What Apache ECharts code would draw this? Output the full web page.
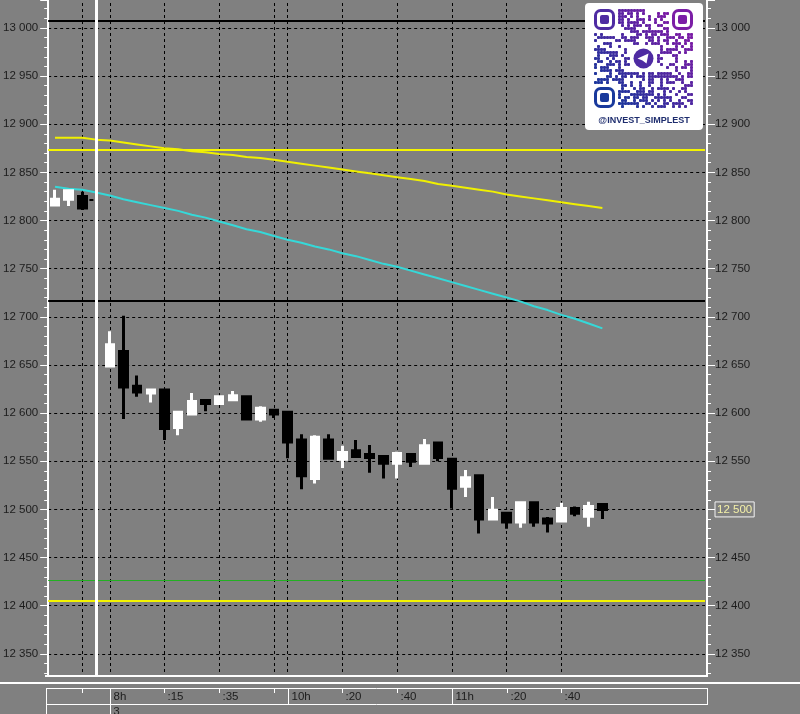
<!DOCTYPE html>
<html><head><meta charset="utf-8">
<script src="https://cdn.jsdelivr.net/npm/echarts@6/dist/echarts.min.js"></script>
<style>html,body{margin:0;padding:0;background:#808080}#c{width:800px;height:714px}</style>
</head><body><div id="c"></div>
<script>
// ---- DATA ----
const slots = ['0','1','2','3','4','5','6','7','8','9','10','11','12','13','14','15','16','17','18','19','20','21','22','23','24','25','26','27','28','29','30','31','32','33','34','35','36','37','38','39','40','41','42','43','44','45','46','47'];
const opens  = [12816,12822,12825,null,12649,12664,12628,12621,12624,12585,12599,12613,12610,12614,12617,12594,12603,12601,12572,12532,12572,12552,12561,12557,12555,12548,12557,12548,12569,12552,12524,12535,12490,12496,12487,12507,12490,12488,12501,12493,12505];
const closes = [12822,12831,12813,null,12671,12627,12622,12624,12584,12601,12612,12610,12617,12618,12594,12605,12599,12570,12535,12575,12553,12559,12555,12554,12548,12558,12550,12566,12554,12522,12533,12490,12499,12487,12507,12487,12486,12501,12496,12503,12500];
const lows   = [12816,12815,12811,null,12649,12594,12617,12611,12572,12577,12599,12602,12610,12614,12594,12591,12595,12553,12521,12527,12553,12543,12555,12538,12532,12532,12544,12548,12550,12501,12513,12475,12490,12480,12481,12482,12476,12488,12493,12482,12490];
const highs  = [12832,12831,12830,null,12685,12701,12639,12625,12625,12601,12621,12613,12617,12623,12617,12607,12603,12601,12578,12577,12578,12566,12572,12567,12555,12560,12557,12573,12569,12552,12541,12535,12513,12496,12507,12507,12492,12507,12503,12508,12505];
const maSlow = [12886,12886,12886,12884,12883,12881,12879,12877,12875,12874,12872,12871,12869,12868,12866,12865,12863,12861,12859,12857,12855,12853,12851,12849,12847,12845,12843,12841,12838,12836,12834,12832,12830,12827,12825,12823,12821,12819,12817,12815,12813];
const maFast = [12835,12833,12832,12829,12826,12822,12819,12816,12813,12810,12806,12803,12799,12795,12791,12788,12784,12780,12777,12773,12770,12766,12763,12759,12755,12752,12748,12744,12740,12736,12732,12728,12724,12720,12716,12711,12707,12702,12698,12693,12688];
const blackLevels = [13007, 12717];
const yellowLevels = [12873, 12405];
const greenLevels = [12426];
const prevClose = 12822;
const sessionBreak = 3;
const gridSlots = [2,4,8,12,16,17,21,25,29,33,37];
const timeTickSlots = [2,4,8,12,16,17,21,25,29,33,37];
const timeTickText  = ['','8h',':15',':35','','10h',':20',':40','11h',':20',':40'];
const dateText = '3';
const yMin = 12300, yMax = 13029, yStep = 50;
const lastPrice = 12500;

// ---- CHART ----
const BG = '#808080';
const TXT = '#1c1c1c';
const FONT = 'Liberation Sans, Arial, sans-serif';
const fmt = v => (v === yMin || v % yStep !== 0) ? '' : (Math.floor(v/1000) + ' ' + String(v % 1000).padStart(3,'0'));
const chart = echarts.init(document.getElementById('c'), null, {renderer: 'canvas'});

const candleData = opens.map((o, i) => o == null ? '-' : [o, closes[i], lows[i], highs[i]]);
const noLabel = {show: false};
const yCommon = {
  type: 'value', min: yMin, max: yMax, interval: yStep,
  axisLine: {show: true, lineStyle: {color: '#fff', width: 2}},
  axisTick: {show: true, length: 8, lineStyle: {color: '#fff', width: 1}},
  minorTick: {show: true, splitNumber: 5, length: 4, lineStyle: {color: '#fff', width: 1}},
};
const option = {
  backgroundColor: BG,
  animation: false,
  tooltip: {show: false},
  grid: [{left: 46, right: 95, top: 0, bottom: 12}],
  xAxis: [{type: 'category', data: slots, boundaryGap: true,
    axisLine: {show: false}, axisTick: {show: false}, axisLabel: {show: false}, splitLine: {show: false}}],
  yAxis: [
    Object.assign({}, yCommon, {position: 'left',
      axisLabel: {margin: 10, color: TXT, fontSize: 11.5, fontFamily: FONT, formatter: fmt, showMaxLabel: false},
      splitLine: {show: true, showMaxLine: false, lineStyle: {color: '#000', type: [3, 3], width: 1}}}),
    Object.assign({}, yCommon, {position: 'right', offset: 2,
      axisLabel: {margin: 8, color: TXT, fontSize: 11.5, fontFamily: FONT, showMaxLabel: false,
        formatter: v => v === lastPrice ? '{box|' + fmt(v) + '}' : fmt(v),
        rich: {box: {color: '#f3f0a8', borderColor: '#f4f4f4', borderWidth: 1, padding: [2, 2, 1, 2], fontSize: 11.5, fontFamily: FONT}}},
      splitLine: {show: false}})
  ],
  series: [
    {type: 'line', data: [], z: 1, silent: true,
      markLine: {z: 1, symbol: ['none','none'], silent: true, label: noLabel, animation: false,
        lineStyle: {color: '#000', type: [3, 3], width: 1},
        data: gridSlots.map(i => ({xAxis: i}))}},
    {type: 'line', data: [], z: 2, silent: true,
      markLine: {z: 2, symbol: ['none','none'], silent: true, label: noLabel, animation: false,
        data: [
          ...blackLevels.map(v => ({yAxis: v, lineStyle: {color: '#000', width: 2, type: 'solid'}})),
          ...yellowLevels.map(v => ({yAxis: v, lineStyle: {color: '#f4f400', width: 2, type: 'solid'}})),
          ...greenLevels.map(v => ({yAxis: v, lineStyle: {color: '#22b022', width: 1, type: 'solid'}})),
          [{coord: [2, prevClose], lineStyle: {color: '#000', width: 2, type: [4, 3]}}, {coord: [3, prevClose]}]
        ]}},
    {type: 'line', data: maSlow, symbol: 'none', z: 2, silent: true,
      lineStyle: {color: '#f0f000', width: 2}},
    {type: 'line', data: maFast, symbol: 'none', z: 2, silent: true,
      lineStyle: {color: '#35d8d8', width: 2}},
    {type: 'candlestick', data: candleData, barWidth: 8, z: 3, silent: true,
      itemStyle: {color: '#ffffff', color0: '#000000', borderColor: '#ffffff', borderColor0: '#000000', borderWidth: 3}},
    {type: 'line', data: [], z: 6, silent: true,
      markLine: {z: 6, symbol: ['none','none'], silent: true, label: noLabel, animation: false,
        lineStyle: {color: '#ffffff', type: 'solid', width: 3},
        data: [{xAxis: sessionBreak}]}}
  ]
};
chart.setOption(option);

// ---- bottom time strip + badge (positions from the x axis) ----
const px = i => chart.convertToPixel({xAxisIndex: 0}, i);
const L = 46, R = 707;
const g = [];
const Z = 100;
g.push({type: 'rect', z: Z, silent: true, shape: {x: 0, y: 675, width: 800, height: 39}, style: {fill: BG}});
g.push({type: 'line', z: Z+1, silent: true, shape: {x1: L-1, y1: 676, x2: R+1, y2: 676}, style: {stroke: '#fff', lineWidth: 2}});
g.push({type: 'line', z: Z+1, silent: true, shape: {x1: 0, y1: 683, x2: 800, y2: 683}, style: {stroke: '#fff', lineWidth: 2}});
g.push({type: 'line', z: Z+1, silent: true, shape: {x1: L, y1: 688.5, x2: R, y2: 688.5}, style: {stroke: '#fff', lineWidth: 1}});
g.push({type: 'line', z: Z+1, silent: true, shape: {x1: L, y1: 704.5, x2: R, y2: 704.5}, style: {stroke: '#fff', lineWidth: 1}});
g.push({type: 'line', z: Z+1, silent: true, shape: {x1: L+0.5, y1: 688, x2: L+0.5, y2: 714}, style: {stroke: '#fff', lineWidth: 1}});
g.push({type: 'line', z: Z+1, silent: true, shape: {x1: R+0.5, y1: 688, x2: R+0.5, y2: 705}, style: {stroke: '#fff', lineWidth: 1}});
timeTickSlots.forEach((s, k) => {
  const x = Math.round(px(s)) + 0.5;
  const t = timeTickText[k];
  const major = /h$/.test(t);
  const y2 = major ? (k === 1 ? 714 : 704) : 693;
  g.push({type: 'line', z: Z+1, silent: true, shape: {x1: x, y1: 688, x2: x, y2: y2}, style: {stroke: '#fff', lineWidth: 1}});
  if (t) g.push({type: 'text', z: Z+2, silent: true, x: x + 3, y: 697,
    style: {text: t, fill: TXT, font: '11.5px ' + FONT, textVerticalAlign: 'middle', textAlign: 'left'}});
});
g.push({type: 'text', z: Z+2, silent: true, x: Math.round(px(timeTickSlots[1])) + 3.5, y: 706,
  style: {text: dateText, fill: TXT, font: '11px ' + FONT, textVerticalAlign: 'top', textAlign: 'left'}});

// QR-style badge
function mix(a, b, t) {
  const pa = [1,3,5].map(i => parseInt(a.substr(i,2),16));
  const pb = [1,3,5].map(i => parseInt(b.substr(i,2),16));
  return 'rgb(' + pa.map((v,i) => Math.round(v + (pb[i]-v)*t)).join(',') + ')';
}
const BL = '#173a9c', PU = '#7b1ea6';
g.push({type: 'rect', z: Z+5, silent: true, shape: {x: 585, y: 3, width: 118, height: 127, r: 4}, style: {fill: '#ffffff'}});
const N = 33, ms = 3, ox = 594, oy = 9;
const inFinder = (r, c) => (r < 8 && c < 8) || (r < 8 && c >= N-8) || (r >= N-8 && c < 8);
const inLogo = (r, c) => r >= 12 && r <= 20 && c >= 12 && c <= 20;
const col = (r, c) => mix(BL, PU, Math.min(1, Math.max(0, (c + (N-1-r)) / (2*(N-1)) * 1.3 - 0.1)));
for (let r = 0; r < N; r++) for (let c = 0; c < N; c++) {
  if (inFinder(r, c) || inLogo(r, c)) continue;
  const h = (((r * 2654435761) ^ (c * 40503) ^ (r * c * 97)) >>> 0) % 100;
  if (h < 50) g.push({type: 'rect', z: Z+6, silent: true,
    shape: {x: ox + c*ms, y: oy + r*ms, width: ms, height: ms, r: 0.8}, style: {fill: col(r, c)}});
}
[[0,0],[0,N-7],[N-7,0]].forEach(([r, c]) => {
  const cc = col(r+3, c+3);
  g.push({type: 'rect', z: Z+6, silent: true, shape: {x: ox + c*ms + 1.5, y: oy + r*ms + 1.5, width: 7*ms - 3, height: 7*ms - 3, r: 5},
    style: {fill: 'none', stroke: cc, lineWidth: 3}});
  g.push({type: 'rect', z: Z+6, silent: true, shape: {x: ox + (c+2)*ms, y: oy + (r+2)*ms, width: 3*ms, height: 3*ms, r: 2},
    style: {fill: cc}});
});
const cx = ox + 16.5*ms, cy = oy + 16.5*ms;
g.push({type: 'circle', z: Z+6, silent: true, shape: {cx: cx, cy: cy, r: 10}, style: {fill: col(16, 16)}});
g.push({type: 'polygon', z: Z+7, silent: true, shape: {points: [[cx-6, cy], [cx+5, cy-5], [cx+3, cy+5], [cx-1, cy+2]]}, style: {fill: '#ffffff'}});
g.push({type: 'text', z: Z+6, silent: true, x: 644, y: 121,
  style: {text: '@INVEST_SIMPLEST', fill: '#1e2d6e', font: 'bold 9px ' + FONT, textAlign: 'center', textVerticalAlign: 'middle'}});

chart.setOption({graphic: g});
</script></body></html>
